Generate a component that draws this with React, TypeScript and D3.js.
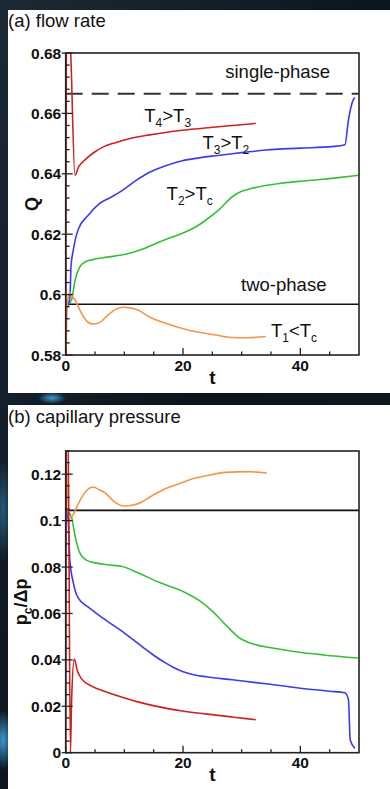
import * as d3 from 'd3';
import React, { useEffect, useRef } from 'react';

// time axis shared by both panels
const tDomain = [0, 50];
const tTicks = [0, 20, 40];
const tMinor = [5, 10, 15, 25, 30, 35, 45];

// (a) flow rate
const flowDomain = [0.58, 0.68];
const flowTicks = [0.58, 0.6, 0.62, 0.64, 0.66, 0.68];
const flowSinglePhase = 0.6665;
const flowTwoPhase = 0.5968;

const flowRed = [
  [0, 0.575], [0.15, 0.69], [0.7, 0.686], [1.58, 0.6395], [2.2, 0.6423], [2.7, 0.6435],
  [3.6, 0.6452], [5, 0.6473], [6.5, 0.649], [8.6, 0.6504], [11, 0.6517], [14.3, 0.6529],
  [17, 0.6537], [19.9, 0.6544], [23, 0.655], [25.6, 0.6555], [29, 0.6561], [32.4, 0.6567],
];
const flowBlue = [
  [0.3, 0.596], [0.73, 0.5993], [0.9, 0.6092], [1.3, 0.6148], [2.1, 0.6214], [3.8, 0.6262],
  [5.8, 0.6302], [7.8, 0.6323], [9.8, 0.6347], [12, 0.6378], [14.3, 0.6405], [16.8, 0.6425],
  [19.9, 0.6443], [22.5, 0.6452], [25.6, 0.646], [30, 0.647], [34.1, 0.6479], [40, 0.6485],
  [45.4, 0.649], [47.6, 0.6496], [48.2, 0.6578], [49, 0.6644], [49.3, 0.6652],
];
const flowGreen = [
  [0.5, 0.597], [1, 0.5982], [1.6, 0.6048], [2.4, 0.6092], [3.3, 0.6108], [4.4, 0.6115],
  [7, 0.6124], [9.5, 0.6131], [13.4, 0.6153], [16.8, 0.6181], [19.9, 0.6203], [22, 0.6222],
  [23.9, 0.6247], [26.2, 0.6282], [28.4, 0.6324], [30, 0.6342], [31.8, 0.6352], [36.9, 0.6369],
  [41, 0.6377], [45.4, 0.6385], [50, 0.6395],
];
const flowOrange = [
  [0, 0.575], [0.3, 0.598], [0.7, 0.6008], [1, 0.5999], [1.6, 0.5982], [2.7, 0.5938],
  [3.6, 0.5912], [4.4, 0.5903], [5.5, 0.5905], [7.2, 0.5932], [8.5, 0.5951], [9.8, 0.5958],
  [11, 0.5956], [12.3, 0.5949], [14.3, 0.5926], [16.8, 0.5907], [19.9, 0.5888], [22.5, 0.5876],
  [25.6, 0.5866], [28.4, 0.5858], [31, 0.5857], [34.1, 0.5861],
];

// (b) capillary pressure
const pressDomain = [0, 0.13];
const pressTicks = [0, 0.02, 0.04, 0.06, 0.08, 0.1, 0.12];
const pressTwoPhase = 0.1044;

const pressRed = [
  [0, 0], [0.12, 0.14], [0.4, 0.14], [0.8, 0], [1.0, 0.022], [1.46, 0.0403], [2.0, 0.0352],
  [2.7, 0.0318], [4.5, 0.0286], [6.7, 0.0264], [9.5, 0.024], [12.3, 0.0219], [16.8, 0.0193],
  [19.9, 0.018], [25.6, 0.0162], [29, 0.0152], [32.4, 0.0142],
];
const pressBlue = [
  [0.2, 0.104], [0.45, 0.099], [0.7, 0.0832], [1.3, 0.0732], [2.1, 0.0668], [3.8, 0.0628],
  [5, 0.0605], [7.2, 0.0565], [9.5, 0.0525], [11.5, 0.0487], [13.4, 0.045], [15, 0.042],
  [16.8, 0.039], [18.4, 0.0367], [19.9, 0.035], [22, 0.0335], [24, 0.0327], [28.4, 0.0314],
  [34.1, 0.0297], [39.7, 0.0279], [45, 0.0265], [47.6, 0.0258], [48.2, 0.0228], [48.5, 0.0055],
  [49.3, 0.0019],
];
const pressGreen = [
  [0.4, 0.104], [1, 0.1015], [1.6, 0.0933], [2.4, 0.0861], [3.5, 0.083], [5, 0.0818],
  [7.5, 0.0809], [9.5, 0.0803], [12.3, 0.0775], [16, 0.0733], [20, 0.0695], [22.8, 0.0655],
  [25, 0.061], [27.5, 0.0545], [29.5, 0.0497], [32.4, 0.0465], [35, 0.0452], [38.6, 0.0437],
  [44, 0.0421], [49.8, 0.0408],
];
const pressOrange = [
  [0.05, 0.14], [0.5, 0.1005], [1.3, 0.1027], [2, 0.1065], [2.7, 0.1099], [3.6, 0.1131],
  [4.7, 0.1145], [5.7, 0.1133], [6.7, 0.112], [8.2, 0.1083], [9.8, 0.1063], [11.3, 0.1066],
  [12.9, 0.1079], [14.5, 0.1104], [16.8, 0.1135], [19.9, 0.1164], [21.6, 0.118], [23.9, 0.1193],
  [27.3, 0.1208], [31.2, 0.1211], [34.3, 0.1205],
];

const RED = '#d0211f';
const BLUE = '#3b3bea';
const GREEN = '#35c035';
const ORANGE = '#f3964a';
const FONT = "'Liberation Sans', Arial, Helvetica, sans-serif";

const panels = [
  {
    boxTop: 10, boxHeight: 383, plotTop: 53, plotBottom: 355,
    title: '(a) flow rate', titleY: 27,
    domain: flowDomain, ticks: flowTicks, minorStep: 0.004,
    dashed: flowSinglePhase, solid: flowTwoPhase,
    yLabel: [['Q', false]], yLabelX: 38,
    series: [
      { data: flowGreen, color: GREEN },
      { data: flowBlue, color: BLUE },
      { data: flowOrange, color: ORANGE },
      { data: flowRed, color: RED },
    ],
    notes: [
      { t: 27.2, v: 0.6717, parts: [['single-phase', false]] },
      { t: 13.4, v: 0.6572, parts: [['T', false], ['4', true], ['>T', false], ['3', true]] },
      { t: 23.3, v: 0.6482, parts: [['T', false], ['3', true], ['>T', false], ['2', true]] },
      { t: 17.2, v: 0.6313, parts: [['T', false], ['2', true], ['>T', false], ['c', true]] },
      { t: 29.9, v: 0.6012, parts: [['two-phase', false]] },
      { t: 35.0, v: 0.586, parts: [['T', false], ['1', true], ['<T', false], ['c', true]] },
    ],
  },
  {
    boxTop: 405, boxHeight: 384, plotTop: 451, plotBottom: 752.7,
    title: '(b) capillary pressure', titleY: 423,
    domain: pressDomain, ticks: pressTicks, minorStep: 0.005,
    dashed: null, solid: pressTwoPhase,
    yLabel: [['p', false], ['c', true], ['/Δp', false]], yLabelX: 27,
    series: [
      { data: pressGreen, color: GREEN },
      { data: pressBlue, color: BLUE },
      { data: pressOrange, color: ORANGE },
      { data: pressRed, color: RED },
    ],
    notes: [],
  },
];

// writes text made of normal and subscript pieces
function richText(sel, parts, size, subSize) {
  let down = false;
  parts.forEach(([s, sub]) => {
    const ts = sel.append('tspan').text(s).style('font-size', `${sub ? subSize : size}px`);
    if (sub && !down) { ts.attr('dy', size * 0.28); down = true; }
    else if (!sub && down) { ts.attr('dy', -size * 0.28); down = false; }
  });
}

function drawPanel(svg, p, i) {
  const left = 65.7;
  const right = 359;

  svg.append('rect')
    .attr('x', 8).attr('y', p.boxTop)
    .attr('width', 382).attr('height', p.boxHeight)
    .attr('fill', '#fff');

  const x = d3.scaleLinear().domain(tDomain).range([left, right]);
  const y = d3.scaleLinear().domain(p.domain).range([p.plotBottom, p.plotTop]);

  svg.append('clipPath').attr('id', `clip${i}`)
    .append('rect')
    .attr('x', left).attr('y', p.plotTop)
    .attr('width', right - left).attr('height', p.plotBottom - p.plotTop);

  const g = svg.append('g').attr('clip-path', `url(#clip${i})`);

  // phase boundaries
  if (p.dashed != null) {
    g.append('line')
      .attr('x1', left).attr('x2', right)
      .attr('y1', y(p.dashed)).attr('y2', y(p.dashed))
      .attr('stroke', '#333').attr('stroke-width', 2)
      .attr('stroke-dasharray', '17 9');
  }
  g.append('line')
    .attr('x1', left).attr('x2', right)
    .attr('y1', y(p.solid)).attr('y2', y(p.solid))
    .attr('stroke', '#111').attr('stroke-width', 1.6);

  const line = d3.line().x((d) => x(d[0])).y((d) => y(d[1])).curve(d3.curveMonotoneX);
  p.series.forEach((s) => {
    g.append('path')
      .attr('d', line(s.data))
      .attr('fill', 'none')
      .attr('stroke', s.color)
      .attr('stroke-width', 1.6)
      .attr('stroke-linejoin', 'round');
  });

  // frame
  svg.append('rect')
    .attr('x', left).attr('y', p.plotTop)
    .attr('width', right - left).attr('height', p.plotBottom - p.plotTop)
    .attr('fill', 'none').attr('stroke', '#222').attr('stroke-width', 1.6);

  // ticks
  const ax = svg.append('g').attr('stroke', '#222').attr('stroke-width', 1.3);
  tTicks.forEach((t) => ax.append('line').attr('x1', x(t)).attr('x2', x(t)).attr('y1', p.plotBottom).attr('y2', p.plotBottom - 7));
  tMinor.forEach((t) => ax.append('line').attr('x1', x(t)).attr('x2', x(t)).attr('y1', p.plotBottom).attr('y2', p.plotBottom - 3.5));
  p.ticks.forEach((v) => ax.append('line').attr('x1', left - 4).attr('x2', left + 7).attr('y1', y(v)).attr('y2', y(v)));
  d3.range(p.domain[0], p.domain[1] + 1e-9, p.minorStep)
    .filter((v) => !p.ticks.some((m) => Math.abs(m - v) < 1e-6))
    .forEach((v) => ax.append('line').attr('x1', left).attr('x2', left + 4).attr('y1', y(v)).attr('y2', y(v)));

  const txt = svg.append('g').style('font-family', FONT).attr('fill', '#111');

  txt.selectAll('.ytick')
    .data(p.ticks)
    .enter()
    .append('text')
    .attr('x', left - 4.5)
    .attr('y', (d) => y(d) + 5.5)
    .attr('text-anchor', 'end')
    .style('font-size', '15.5px')
    .style('font-weight', 'bold')
    .text((d) => d3.format('~g')(d));

  txt.selectAll('.xtick')
    .data(tTicks)
    .enter()
    .append('text')
    .attr('x', (d) => x(d))
    .attr('y', p.plotBottom + 15.5)
    .attr('text-anchor', 'middle')
    .style('font-size', '15.5px')
    .style('font-weight', 'bold')
    .text((d) => d);

  txt.append('text')
    .attr('x', (left + right) / 2)
    .attr('y', p.plotBottom + 28.5)
    .attr('text-anchor', 'middle')
    .style('font-size', '19px')
    .style('font-weight', 'bold')
    .text('t');

  const yl = txt.append('text')
    .attr('transform', `translate(${p.yLabelX},${(p.plotTop + p.plotBottom) / 2}) rotate(-90)`)
    .attr('text-anchor', 'middle')
    .style('font-weight', 'bold');
  richText(yl, p.yLabel, 18, 12);

  txt.append('text')
    .attr('x', 8)
    .attr('y', p.titleY)
    .style('font-size', '18.5px')
    .text(p.title);

  p.notes.forEach((n) => {
    const el = txt.append('text').attr('x', x(n.t)).attr('y', y(n.v));
    richText(el, n.parts, 18.5, 12);
  });
}

export default function App() {
  const svgRef = useRef(null);

  useEffect(() => {
    const svg = d3.select(svgRef.current);
    svg.selectAll('*').remove();

    const defs = svg.append('defs');
    const grad = defs.append('linearGradient').attr('id', 'space')
      .attr('x1', 0).attr('y1', 0).attr('x2', 1).attr('y2', 1);
    grad.append('stop').attr('offset', '0%').attr('stop-color', '#1c2a36');
    grad.append('stop').attr('offset', '50%').attr('stop-color', '#0b151f');
    grad.append('stop').attr('offset', '100%').attr('stop-color', '#0a1822');
    const glow = defs.append('radialGradient').attr('id', 'glow');
    glow.append('stop').attr('offset', '0%').attr('stop-color', '#3fa8e0').attr('stop-opacity', 0.9);
    glow.append('stop').attr('offset', '100%').attr('stop-color', '#3fa8e0').attr('stop-opacity', 0);

    svg.append('rect').attr('width', 390).attr('height', 789).attr('fill', 'url(#space)');
    svg.append('ellipse').attr('cx', 3).attr('cy', 740).attr('rx', 12).attr('ry', 30).attr('fill', 'url(#glow)');
    svg.append('ellipse').attr('cx', 3).attr('cy', 510).attr('rx', 10).attr('ry', 50).attr('fill', 'url(#glow)').attr('opacity', 0.5);
    svg.append('ellipse').attr('cx', 52).attr('cy', 398).attr('rx', 14).attr('ry', 6).attr('fill', 'url(#glow)');

    panels.forEach((p, i) => drawPanel(svg, p, i));
  }, []);

  return (
    <svg
      ref={svgRef}
      width={390}
      height={789}
      style={{ position: 'absolute', left: 0, top: 0, display: 'block' }}
    ></svg>
  );
}
